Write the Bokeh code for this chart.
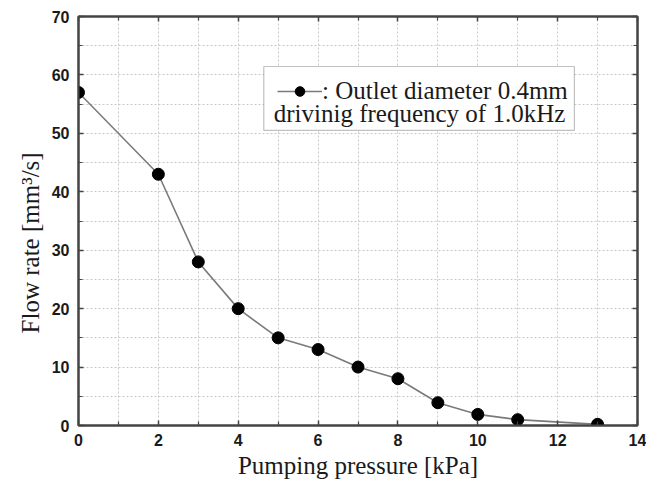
import math
from bokeh.plotting import figure
from bokeh.models import (Range1d, FixedTicker, LinearAxis, Legend, LegendItem,
                          BoxAnnotation, Label)
from bokeh.embed import file_html
from bokeh.resources import INLINE

# ---- data ----
pressure_kpa = [0, 2, 3, 4, 5, 6, 7, 8, 9, 10, 11, 13]
flow_rate = [57, 43, 28, 20, 15, 13, 10, 8, 3.9, 1.9, 1.0, 0.2]
x_ticks = [0, 2, 4, 6, 8, 10, 12, 14]
x_minor = [1, 3, 5, 7, 9, 11, 13]
y_ticks = [0, 10, 20, 30, 40, 50, 60, 70]
y_minor = [5, 15, 25, 35, 45, 55, 65]
legend_line1 = ": Outlet diameter 0.4mm"
legend_line2 = "drivinig frequency of 1.0kHz"
x_title = "Pumping pressure [kPa]"
y_title = "Flow rate [mm\u00b3/s]"

TXT = "#1a1a1a"
AX = "#444444"

p = figure(width=646, height=486, output_backend="svg", toolbar_location=None,
           x_range=Range1d(0, 14), y_range=Range1d(0, 70),
           min_border_left=78, min_border_right=9, min_border_top=16,
           min_border_bottom=61, background_fill_color="white",
           border_fill_color="white")

p.outline_line_color = AX
p.outline_line_width = 2

xt = FixedTicker(ticks=x_ticks, minor_ticks=x_minor)
yt = FixedTicker(ticks=y_ticks, minor_ticks=y_minor)

def style_axis(ax, show_labels, ticks):
    ax.axis_line_color = AX
    ax.axis_line_width = 2
    ax.major_tick_in = 5
    ax.major_tick_out = 0
    ax.minor_tick_in = 4
    ax.minor_tick_out = 0
    ax.major_tick_line_color = AX
    ax.major_tick_line_width = 1.5
    ax.minor_tick_line_color = AX
    ax.minor_tick_line_width = 1.2
    ax.major_label_text_font = "Liberation Sans"
    ax.major_label_text_font_style = "bold"
    ax.major_label_text_font_size = "16px"
    ax.major_label_text_color = TXT
    if not show_labels:
        ax.major_label_overrides = {t: "" for t in ticks}
        ax.major_label_standoff = 0

xa = p.xaxis[0]
xa.ticker = xt
style_axis(xa, True, x_ticks)
xa.major_label_standoff = 8
xa.axis_label = x_title
xa.axis_label_text_font = "Liberation Serif"
xa.axis_label_text_font_style = "normal"
xa.axis_label_text_font_size = "25px"
xa.axis_label_text_color = TXT
xa.axis_label_standoff = 3

ya = p.yaxis[0]
ya.ticker = yt
style_axis(ya, True, y_ticks)
ya.major_label_standoff = 9
# trailing no-break spaces shift the centred title down, as in the reference
ya.axis_label = y_title + "\u00a0" * 7
ya.axis_label_text_font = "Liberation Serif"
ya.axis_label_text_font_style = "normal"
ya.axis_label_text_font_size = "25px"
ya.axis_label_text_color = TXT
ya.axis_label_standoff = 5

top = LinearAxis(ticker=xt)
style_axis(top, False, x_ticks)
p.add_layout(top, "above")
right = LinearAxis(ticker=yt)
style_axis(right, False, y_ticks)
p.add_layout(right, "right")

for g, tk in ((p.xgrid[0], xt), (p.ygrid[0], yt)):
    g.ticker = tk
    g.grid_line_color = "#c8c8c8"
    g.grid_line_dash = "2 2"
    g.grid_line_width = 1
    g.minor_grid_line_color = "#c8c8c8"
    g.minor_grid_line_dash = "2 2"
    g.minor_grid_line_width = 1

line = p.line(pressure_kpa, flow_rate, line_color="#7a7a7a", line_width=1.6)
pts = p.scatter(pressure_kpa, flow_rate, size=12, marker="circle",
                fill_color="black", line_color="black")

# legend box
box = BoxAnnotation(left=4.64, right=12.42, bottom=50.5, top=61.44,
                    fill_color="white", fill_alpha=1.0,
                    line_color="#333333", line_width=1.2)
p.add_layout(box)

legend = Legend(items=[LegendItem(label=legend_line1, renderers=[line, pts])],
                location=(199, 320), orientation="vertical",
                glyph_width=45, glyph_height=24, label_standoff=0,
                label_height=24, padding=0, margin=0, spacing=0,
                border_line_alpha=0, background_fill_alpha=0,
                label_text_font="Liberation Serif", label_text_font_size="25px",
                label_text_color=TXT)
p.add_layout(legend)

lab2 = Label(x=4.89, y=53.4, text=legend_line2, text_baseline="middle",
             text_font="Liberation Serif", text_font_size="25px",
             text_color=TXT)
p.add_layout(lab2)

open("out.html", "w").write(file_html(p, INLINE))
